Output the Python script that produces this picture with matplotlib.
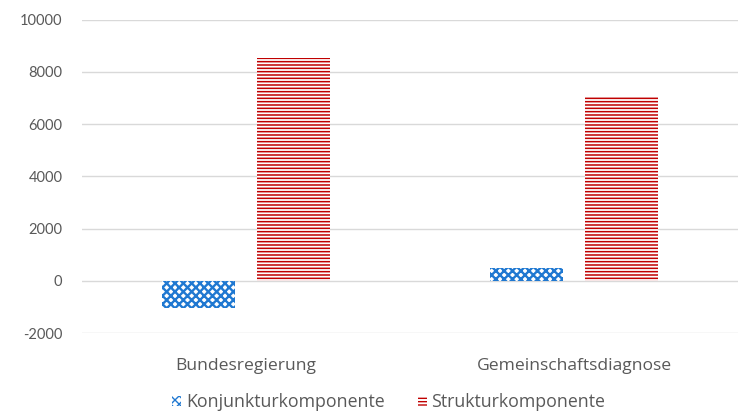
import numpy as np
import matplotlib
import matplotlib.pyplot as plt
from matplotlib.patches import Patch

matplotlib.rcParams.update({
    "font.family": ["Lato", "DejaVu Sans"],
    "font.size": 10.5,
    "axes.unicode_minus": False,
})

categories = ["Bundesregierung", "Gemeinschaftsdiagnose"]
konjunktur = [-1050, 500]
struktur = [8550, 7050]

BLUE = "#1f78d1"
RED = "#c00000"
TEXT = "#595959"

fig = plt.figure(figsize=(7.38, 4.19), dpi=100)
ax = fig.add_axes([0.111, 0.205, 0.889, 0.748])

x = np.arange(len(categories))
w = 0.223
off = 0.144

b1 = ax.bar(x - off, konjunktur, w, color="white", edgecolor=BLUE, hatch="xxxx", lw=0)
b2 = ax.bar(x + off, struktur, w, color="white", edgecolor=RED, hatch="-----", lw=0)
for p in b1:
    p.set_hatch_linewidth(1.7)
for p in b2:
    p.set_hatch_linewidth(1.1)

ax.set_xlim(-0.5, 1.5)
ax.set_ylim(-2000, 10000)
ax.set_yticks(range(-2000, 10001, 2000))
ax.set_xticks(x)
ax.set_xticklabels(categories, family=["Open Sans"])
ax.yaxis.grid(True, color="#d9d9d9", lw=1)
ax.set_axisbelow(True)
for s in ax.spines.values():
    s.set_visible(False)
ax.tick_params(length=0, colors=TEXT)
ax.tick_params(axis="y", pad=14, labelsize=10.5)
ax.tick_params(axis="x", pad=18, labelsize=12.6)

handles = [
    Patch(facecolor="white", edgecolor=BLUE, hatch="xxxx", lw=0, label="Konjunkturkomponente"),
    Patch(facecolor="white", edgecolor=RED, hatch="-----", lw=0, label="Strukturkomponente"),
]
leg = fig.legend(handles=handles, loc="lower center", bbox_to_anchor=(0.527, -0.02), ncol=2,
                 frameon=False, handlelength=0.5, handleheight=0.5, handletextpad=0.25,
                 columnspacing=1.9, labelcolor=TEXT,
                 prop={"family": "Open Sans", "size": 12.8})

plt.savefig("out.png", dpi=100)
